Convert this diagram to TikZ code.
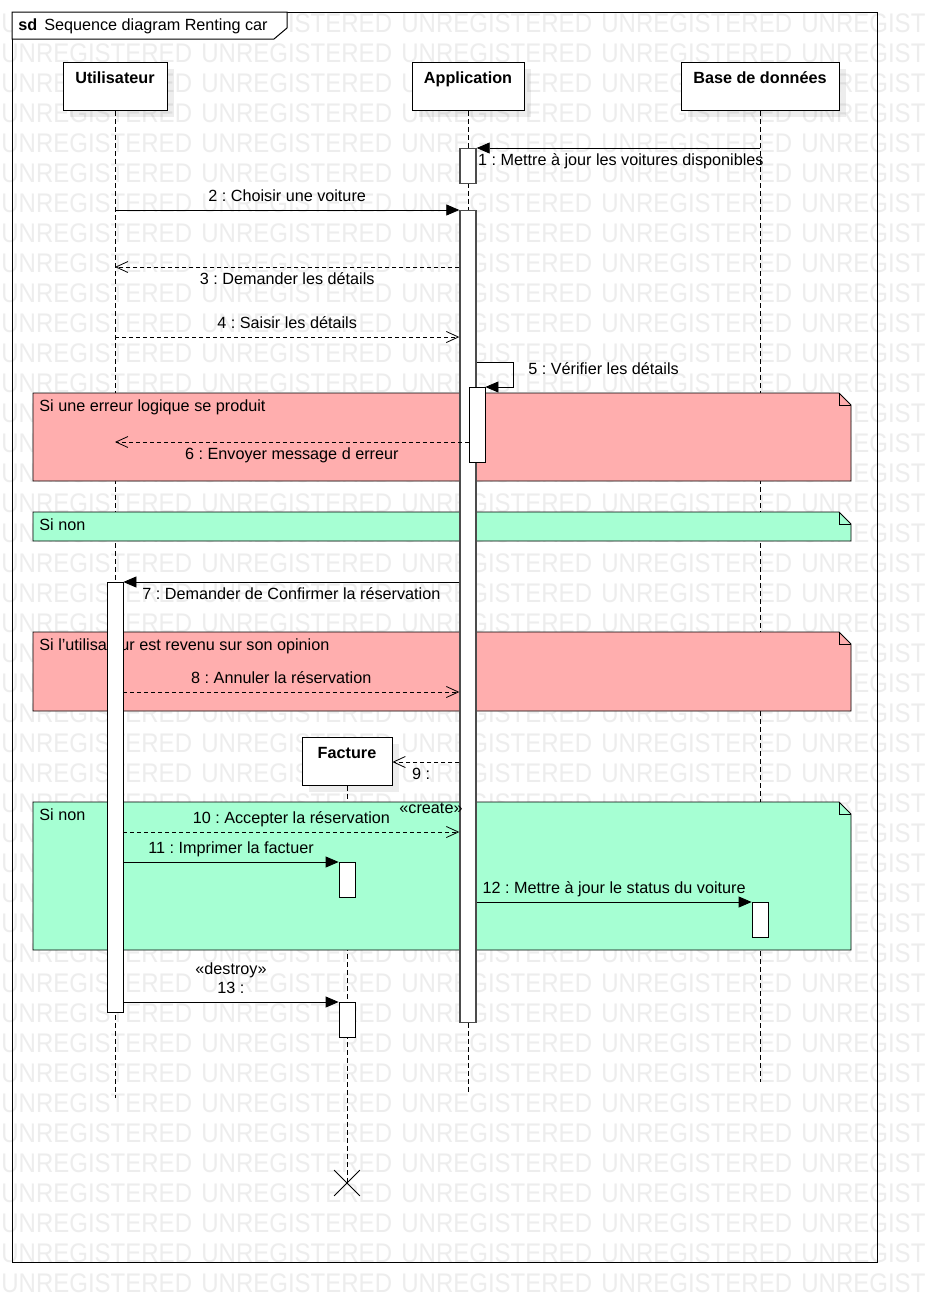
\documentclass[tikz,border=0pt]{standalone}
\usepackage{fontspec}
\setmainfont{Liberation Sans}
\usetikzlibrary{positioning, arrows.meta, calc, shapes.misc, shadows}
\definecolor{fragred}{RGB}{255,174,174}
\definecolor{fraggreen}{RGB}{166,255,211}
\definecolor{wmgray}{RGB}{237,237,237}
\frenchspacing
\tikzset{
  head/.style={draw, fill=white, anchor=north, font=\fontsize{16.2}{19.5}\selectfont\bfseries,
    text height=14pt, text depth=20pt, inner ysep=7pt,
    drop shadow={shadow xshift=7pt, shadow yshift=-7pt, fill=black, opacity=0.07}},
  life/.style={dash pattern=on 5pt off 3pt},
  act/.style={draw, fill=white, anchor=north, minimum width=16pt, inner sep=0pt},
  busy/.style={act, draw=black!70, line width=1.4pt},
  call/.style={-{Triangle[length=13pt,width=11pt]}},
  reply/.style={dash pattern=on 4pt off 3pt, -{Straight Barb[length=12pt,width=11pt]}},
  lbl/.style={inner sep=1pt, text height=12pt, text depth=3.5pt},
  fraglbl/.style={lbl, anchor=north west},
  frag/.style={draw=black, line width=0.8pt},
  frame/.style={line width=1pt},
  wmark/.style={text=wmgray, font=\fontsize{24}{24}\selectfont, anchor=west, inner sep=0pt}
}

\begin{document}
\begin{tikzpicture}[x=1pt, y=-1pt, font=\fontsize{16.2}{19.5}\selectfont, line width=0.8pt]
  \useasboundingbox[fill=white] (0,0) rectangle (926,1312);
  % watermark
  \begin{scope}
    \clip (0,0) rectangle (926,1312);
    \foreach \r in {0,...,42}
      \foreach \c in {0,...,4}
        \node[wmark] (wm-\r-\c) at ({200*\c+1},{23.5+30*\r}) {\scalebox{1}[1.12]{UNREGISTERED}};
  \end{scope}

  % frame
  \draw[frame] (12,12) rectangle (877,1262);
  \draw[frame, fill=white] (12,12) -- (287,12) -- (287,28) -- (274,39) -- (12,39) -- cycle;
  \node[lbl, anchor=west, inner sep=0pt] (title) at (18,26.5) {\textbf{sd}\hspace{7pt}Sequence diagram Renting car};

  % lifelines
  \node[head, minimum width=104pt] (usr) at (115,62) {Utilisateur};
  \node[head, minimum width=112pt] (app) at (468,62) {Application};
  \node[head, minimum width=158pt] (bdd) at (760,62) {Base de données};
  \node[head, minimum width=90pt] (fac) at (347,737) {Facture};
  \coordinate (usr-end) at (115,1098);
  \coordinate (app-end) at (468,1092);
  \coordinate (bdd-end) at (760,1082);
  \node[draw, cross out, minimum size=25pt, inner sep=0pt] (fac-x) at (347,1183) {};
  \draw[life] (usr) -- (usr-end);
  \draw[life] (app) -- (app-end);
  \draw[life] (bdd) -- (bdd-end);
  \draw[life] (fac) -- (fac-x.center);

  % fragments
  \path[frag, fill=fragred] (33,393) coordinate (f1) -- (839,393) -- (851,405) -- (851,481) -- (33,481) -- cycle;
  \draw[frag] (839,393) |- (851,405);
  \node[fraglbl] (f1-txt) at ($(f1)+(5,5.5)$) {Si une erreur logique se produit};
  \path[frag, fill=fraggreen] (33,512) coordinate (f2) -- (839,512) -- (851,524) -- (851,541) -- (33,541) -- cycle;
  \draw[frag] (839,512) |- (851,524);
  \node[fraglbl] (f2-txt) at ($(f2)+(5,5.5)$) {Si non};
  \path[frag, fill=fragred] (33,632) coordinate (f3) -- (839,632) -- (851,644) -- (851,711) -- (33,711) -- cycle;
  \draw[frag] (839,632) |- (851,644);
  \node[fraglbl] (f3-txt) at ($(f3)+(5,5.5)$) {Si l'utilisateur est revenu sur son opinion};
  \path[frag, fill=fraggreen] (33,802) coordinate (f4) -- (839,802) -- (851,814) -- (851,950) -- (33,950) -- cycle;
  \draw[frag] (839,802) |- (851,814);
  \node[fraglbl] (f4-txt) at ($(f4)+(5,5.5)$) {Si non};

  % activations
  \node[busy, minimum height=35pt] (app-a1) at (468,148) {};
  \node[busy, minimum height=812pt] (app-a2) at (468,210) {};
  \node[act, minimum height=75pt] (app-a3) at (477,387) {};
  \node[act, minimum height=430pt] (usr-a1) at (115,582) {};
  \node[act, minimum height=35pt] (fac-a1) at (347,862) {};
  \node[act, minimum height=35pt] (fac-a2) at (347,1002) {};
  \node[act, minimum height=35pt] (bdd-a1) at (760,902) {};

  % messages
  \foreach \n/\y in {r3/267, r4/337, r6/442, r8/692, r9/762, r10/832}
    \coordinate (\n) at (0,\y);
  \coordinate (r5) at (513,362);
  \draw[call] (bdd |- app-a1.north) -- (app-a1.north east)
    node[lbl, pos=1, anchor=north west, yshift=-4pt] (m1) {1 : Mettre à jour les voitures disponibles};
  \draw[call] (usr |- app-a2.north) -- (app-a2.north west)
    node[lbl, midway, above=4pt] (m2) {2 : Choisir une voiture};
  \draw[reply] (app-a2.west |- r3) -- (usr |- r3)
    node[lbl, midway, below=4pt] (m3) {3 : Demander les détails};
  \draw[reply] (usr |- r4) -- (app-a2.west |- r4)
    node[lbl, midway, above=4pt] (m4) {4 : Saisir les détails};
  \draw[call] (app-a2.east |- r5) -- (r5) |- (app-a3.north east);
  \node[lbl, anchor=west] (m5) at ($(r5)+(14,8)$) {5 : Vérifier les détails};
  \draw[reply] (app-a3.west |- r6) -- (usr |- r6)
    node[lbl, midway, below=4pt] (m6) {6 : Envoyer message d erreur};
  \draw[call] (app-a2.west |- usr-a1.north) -- (usr-a1.north east)
    node[lbl, midway, below=4pt] (m7) {7 : Demander de Confirmer la réservation};
  \draw[reply] (usr-a1.east |- r8) -- (app-a2.west |- r8)
    node[lbl, pos=0.47, above=4pt] (m8) {8 : Annuler la réservation};
  \draw[reply] (app-a2.west |- r9) -- (fac.east |- r9)
    node[lbl, pos=0.57, below=4pt] (m9) {9 :};
  \node[lbl] (m9-st) at (431,809.5) {«create»};
  \draw[reply] (usr-a1.east |- r10) -- (app-a2.west |- r10)
    node[lbl, midway, above=4pt] (m10) {10 : Accepter la réservation};
  \draw[call] (usr-a1.east |- fac-a1.north) -- (fac-a1.north west)
    node[lbl, midway, above=4pt] (m11) {11 : Imprimer la factuer};
  \draw[call] (app-a2.east |- bdd-a1.north) -- (bdd-a1.north west)
    node[lbl, midway, above=4pt] (m12) {12 : Mettre à jour le status du voiture};
  \draw[call] (usr-a1.east |- fac-a2.north) -- (fac-a2.north west)
    node[lbl, midway, above=4pt] (m13) {13 :};
  \node[lbl, above=0pt of m13] (m13-st) {«destroy»};
\end{tikzpicture}
\end{document}
